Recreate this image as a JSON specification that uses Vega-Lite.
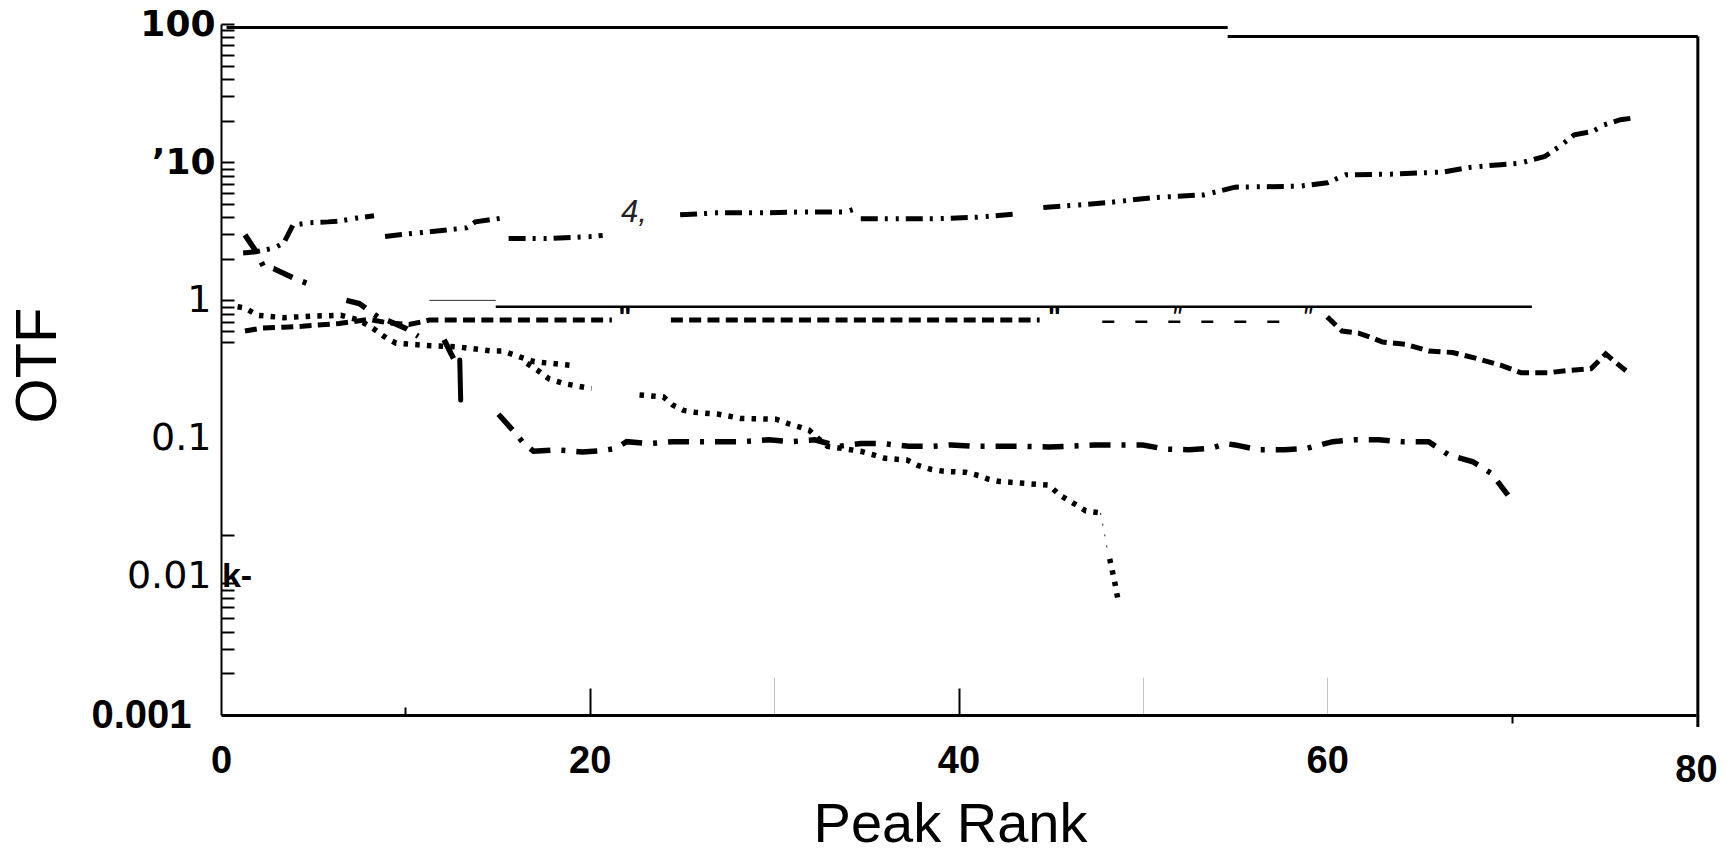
{
  "$schema": "https://vega.github.io/schema/vega-lite/v6.json",
  "width": 1475,
  "height": 691,
  "autosize": {"type": "none"},
  "padding": {"left": 221, "top": 24, "right": 36, "bottom": 139},
  "background": "white",
  "config": {"view": {"stroke": null}, "axis": {"grid": false}},
  "datasets": {
    "curves": [
      {"s":"A","g":"A1","r":1.2,"v":2.2},{"s":"A","g":"A1","r":1.9,"v":2.25},{"s":"A","g":"A1","r":2.9,"v":2.4},{"s":"A","g":"A1","r":3.4,"v":2.6},{"s":"A","g":"A1","r":3.9,"v":3.5},{"s":"A","g":"A1","r":4.8,"v":3.65},{"s":"A","g":"A1","r":5.8,"v":3.7},{"s":"A","g":"A1","r":6.4,"v":3.75},{"s":"A","g":"A1","r":7.4,"v":3.95},{"s":"A","g":"A1","r":8.3,"v":4.1},
      {"s":"A","g":"A2","r":8.9,"v":2.9},{"s":"A","g":"A2","r":9.8,"v":3.0},{"s":"A","g":"A2","r":10.9,"v":3.1},{"s":"A","g":"A2","r":12.4,"v":3.25},{"s":"A","g":"A2","r":13.3,"v":3.35},{"s":"A","g":"A2","r":13.8,"v":3.7},{"s":"A","g":"A2","r":15.3,"v":3.95},
      {"s":"A","g":"A3","r":15.6,"v":2.8},{"s":"A","g":"A3","r":17.6,"v":2.8},{"s":"A","g":"A3","r":20.1,"v":2.9},{"s":"A","g":"A3","r":20.7,"v":2.95},
      {"s":"A","g":"A4","r":24.9,"v":4.16},{"s":"A","g":"A4","r":26.9,"v":4.3},{"s":"A","g":"A4","r":29.4,"v":4.3},{"s":"A","g":"A4","r":31.7,"v":4.37},{"s":"A","g":"A4","r":33.9,"v":4.37},{"s":"A","g":"A4","r":34.4,"v":4.6},
      {"s":"A","g":"A5","r":34.7,"v":3.9},{"s":"A","g":"A5","r":36.4,"v":3.9},{"s":"A","g":"A5","r":38.7,"v":3.9},{"s":"A","g":"A5","r":41.0,"v":4.0},{"s":"A","g":"A5","r":43.0,"v":4.2},
      {"s":"A","g":"A6","r":44.6,"v":4.7},{"s":"A","g":"A6","r":45.6,"v":4.8},{"s":"A","g":"A6","r":48.1,"v":5.1},{"s":"A","g":"A6","r":50.6,"v":5.55},{"s":"A","g":"A6","r":53.3,"v":5.8},{"s":"A","g":"A6","r":55.0,"v":6.6},{"s":"A","g":"A6","r":58.5,"v":6.7},{"s":"A","g":"A6","r":60.0,"v":7.1},{"s":"A","g":"A6","r":61.0,"v":8.1},{"s":"A","g":"A6","r":63.6,"v":8.2},{"s":"A","g":"A6","r":66.3,"v":8.5},{"s":"A","g":"A6","r":67.8,"v":9.2},{"s":"A","g":"A6","r":69.4,"v":9.6},{"s":"A","g":"A6","r":70.4,"v":9.8},{"s":"A","g":"A6","r":71.8,"v":11},{"s":"A","g":"A6","r":72.6,"v":13},{"s":"A","g":"A6","r":73.4,"v":15.8},{"s":"A","g":"A6","r":74.4,"v":16.7},{"s":"A","g":"A6","r":75.0,"v":18.6},{"s":"A","g":"A6","r":75.9,"v":20.3},{"s":"A","g":"A6","r":76.5,"v":20.8},

      {"s":"B","g":"B1","r":1.3,"v":2.98},{"s":"B","g":"B1","r":1.95,"v":2.21},{"s":"B","g":"B1","r":2.3,"v":1.76},{"s":"B","g":"B1","r":2.85,"v":1.7},{"s":"B","g":"B1","r":3.94,"v":1.45},{"s":"B","g":"B1","r":4.66,"v":1.33},
      {"s":"B","g":"B2","r":6.8,"v":1.0},{"s":"B","g":"B2","r":7.5,"v":0.95},{"s":"B","g":"B2","r":8.5,"v":0.76},{"s":"B","g":"B2","r":9.1,"v":0.71},{"s":"B","g":"B2","r":10.0,"v":0.63},{"s":"B","g":"B2","r":10.7,"v":0.55},
      {"s":"B","g":"B3","r":12.1,"v":0.52},{"s":"B","g":"B3","r":12.7,"v":0.36},
      {"s":"B","g":"B4","r":15.05,"v":0.15},{"s":"B","g":"B4","r":15.95,"v":0.11},{"s":"B","g":"B4","r":16.4,"v":0.093},{"s":"B","g":"B4","r":16.95,"v":0.081},{"s":"B","g":"B4","r":18.2,"v":0.083},{"s":"B","g":"B4","r":19.6,"v":0.080},{"s":"B","g":"B4","r":20.7,"v":0.082},{"s":"B","g":"B4","r":21.4,"v":0.085},{"s":"B","g":"B4","r":22.0,"v":0.095},{"s":"B","g":"B4","r":23.2,"v":0.092},{"s":"B","g":"B4","r":24.5,"v":0.095},{"s":"B","g":"B4","r":25.8,"v":0.095},{"s":"B","g":"B4","r":28.3,"v":0.095},{"s":"B","g":"B4","r":29.7,"v":0.098},{"s":"B","g":"B4","r":30.9,"v":0.095},{"s":"B","g":"B4","r":32.2,"v":0.098},{"s":"B","g":"B4","r":33.5,"v":0.088},{"s":"B","g":"B4","r":34.7,"v":0.092},{"s":"B","g":"B4","r":35.9,"v":0.092},{"s":"B","g":"B4","r":37.3,"v":0.088},{"s":"B","g":"B4","r":38.6,"v":0.088},{"s":"B","g":"B4","r":39.6,"v":0.09},{"s":"B","g":"B4","r":40.9,"v":0.088},{"s":"B","g":"B4","r":42.1,"v":0.088},{"s":"B","g":"B4","r":43.4,"v":0.088},{"s":"B","g":"B4","r":44.9,"v":0.087},{"s":"B","g":"B4","r":46.0,"v":0.088},{"s":"B","g":"B4","r":47.4,"v":0.09},{"s":"B","g":"B4","r":48.7,"v":0.09},{"s":"B","g":"B4","r":50.0,"v":0.09},{"s":"B","g":"B4","r":51.2,"v":0.084},{"s":"B","g":"B4","r":52.5,"v":0.083},{"s":"B","g":"B4","r":53.7,"v":0.085},{"s":"B","g":"B4","r":54.5,"v":0.092},{"s":"B","g":"B4","r":55.0,"v":0.09},{"s":"B","g":"B4","r":56.3,"v":0.083},{"s":"B","g":"B4","r":57.7,"v":0.083},{"s":"B","g":"B4","r":58.9,"v":0.085},{"s":"B","g":"B4","r":60.3,"v":0.095},{"s":"B","g":"B4","r":61.5,"v":0.098},{"s":"B","g":"B4","r":62.8,"v":0.098},{"s":"B","g":"B4","r":64.1,"v":0.095},{"s":"B","g":"B4","r":65.5,"v":0.095},{"s":"B","g":"B4","r":66.6,"v":0.076},{"s":"B","g":"B4","r":67.9,"v":0.068},{"s":"B","g":"B4","r":68.9,"v":0.056},{"s":"B","g":"B4","r":69.8,"v":0.039},

      {"s":"C","g":"C1","r":1.3,"v":0.60},{"s":"C","g":"C1","r":2.2,"v":0.63},{"s":"C","g":"C1","r":3.4,"v":0.64},{"s":"C","g":"C1","r":4.4,"v":0.65},{"s":"C","g":"C1","r":6.4,"v":0.68},{"s":"C","g":"C1","r":7.1,"v":0.70},{"s":"C","g":"C1","r":8.0,"v":0.73},{"s":"C","g":"C1","r":9.0,"v":0.69},{"s":"C","g":"C1","r":10.2,"v":0.67},{"s":"C","g":"C1","r":10.9,"v":0.70},{"s":"C","g":"C1","r":11.3,"v":0.72},{"s":"C","g":"C1","r":21.2,"v":0.72},
      {"s":"C","g":"C2","r":24.4,"v":0.72},{"s":"C","g":"C2","r":44.4,"v":0.72},
      {"s":"Cf","g":"Cf1","r":47.8,"v":0.70},{"s":"Cf","g":"Cf1","r":57.6,"v":0.70},
      {"s":"C","g":"C3","r":60.0,"v":0.76},{"s":"C","g":"C3","r":60.8,"v":0.60},{"s":"C","g":"C3","r":61.7,"v":0.58},{"s":"C","g":"C3","r":62.2,"v":0.55},{"s":"C","g":"C3","r":63.0,"v":0.50},{"s":"C","g":"C3","r":64.3,"v":0.48},{"s":"C","g":"C3","r":65.5,"v":0.43},{"s":"C","g":"C3","r":66.8,"v":0.42},{"s":"C","g":"C3","r":68.1,"v":0.38},{"s":"C","g":"C3","r":69.4,"v":0.34},{"s":"C","g":"C3","r":70.5,"v":0.30},{"s":"C","g":"C3","r":72.0,"v":0.30},{"s":"C","g":"C3","r":73.0,"v":0.31},{"s":"C","g":"C3","r":74.3,"v":0.32},{"s":"C","g":"C3","r":75.1,"v":0.41},{"s":"C","g":"C3","r":75.6,"v":0.36},{"s":"C","g":"C3","r":76.2,"v":0.31},

      {"s":"D","g":"D1","r":0.9,"v":0.90},{"s":"D","g":"D1","r":1.3,"v":0.88},{"s":"D","g":"D1","r":2.0,"v":0.78},{"s":"D","g":"D1","r":3.4,"v":0.75},{"s":"D","g":"D1","r":5.0,"v":0.77},{"s":"D","g":"D1","r":6.5,"v":0.78},{"s":"D","g":"D1","r":7.5,"v":0.72},{"s":"D","g":"D1","r":8.3,"v":0.62},{"s":"D","g":"D1","r":9.0,"v":0.53},{"s":"D","g":"D1","r":9.5,"v":0.49},{"s":"D","g":"D1","r":11.4,"v":0.47},{"s":"D","g":"D1","r":12.9,"v":0.46},{"s":"D","g":"D1","r":14.7,"v":0.43},{"s":"D","g":"D1","r":15.3,"v":0.43},{"s":"D","g":"D1","r":16.2,"v":0.39},{"s":"D","g":"D1","r":17.0,"v":0.36},{"s":"D","g":"D1","r":18.9,"v":0.34},
      {"s":"D","g":"D2","r":16.6,"v":0.35},{"s":"D","g":"D2","r":17.2,"v":0.31},{"s":"D","g":"D2","r":17.8,"v":0.27},{"s":"D","g":"D2","r":18.6,"v":0.25},{"s":"D","g":"D2","r":20.1,"v":0.23},
      {"s":"D","g":"D3","r":22.7,"v":0.207},{"s":"D","g":"D3","r":24.0,"v":0.20},{"s":"D","g":"D3","r":24.5,"v":0.175},{"s":"D","g":"D3","r":25.1,"v":0.16},{"s":"D","g":"D3","r":25.7,"v":0.155},{"s":"D","g":"D3","r":27.0,"v":0.15},{"s":"D","g":"D3","r":28.2,"v":0.14},{"s":"D","g":"D3","r":30.1,"v":0.138},{"s":"D","g":"D3","r":30.8,"v":0.128},{"s":"D","g":"D3","r":31.4,"v":0.121},{"s":"D","g":"D3","r":31.9,"v":0.115},{"s":"D","g":"D3","r":32.4,"v":0.10},{"s":"D","g":"D3","r":32.9,"v":0.088},{"s":"D","g":"D3","r":34.7,"v":0.081},{"s":"D","g":"D3","r":35.3,"v":0.077},{"s":"D","g":"D3","r":36.0,"v":0.072},{"s":"D","g":"D3","r":37.2,"v":0.070},{"s":"D","g":"D3","r":37.8,"v":0.064},{"s":"D","g":"D3","r":38.5,"v":0.060},{"s":"D","g":"D3","r":39.2,"v":0.058},{"s":"D","g":"D3","r":40.4,"v":0.057},{"s":"D","g":"D3","r":41.1,"v":0.054},{"s":"D","g":"D3","r":41.6,"v":0.051},{"s":"D","g":"D3","r":42.2,"v":0.049},{"s":"D","g":"D3","r":44.9,"v":0.046},{"s":"D","g":"D3","r":45.5,"v":0.039},{"s":"D","g":"D3","r":46.4,"v":0.033},{"s":"D","g":"D3","r":46.9,"v":0.030},{"s":"D","g":"D3","r":47.7,"v":0.029},
      {"s":"Df","g":"Df1","r":47.7,"v":0.029},{"s":"Df","g":"Df1","r":47.9,"v":0.021},{"s":"Df","g":"Df1","r":48.1,"v":0.015},
      {"s":"D","g":"D4","r":48.2,"v":0.0135},{"s":"D","g":"D4","r":48.45,"v":0.0095},{"s":"D","g":"D4","r":48.7,"v":0.0063}
    ],
    "frame": [
      {"r":0.3,"v":94.5,"r2":54.6,"v2":94.5},
      {"r":54.6,"v":81.3,"r2":80.1,"v2":81.3},
      {"r":80.1,"v":81.3,"r2":80.1,"v2":0.00082}
    ],
    "refline": [
      {"r":14.9,"v":0.9,"r2":71.1,"v2":0.9}
    ],
    "thinline": [
      {"r":11.3,"v":1.0,"r2":14.9,"v2":1.0}
    ],
    "blob": [
      {"r":12.95,"v":0.37,"r2":13.0,"v2":0.19}
    ],
    "notes": [
      {"r":22.4,"v":4.3,"t":"4,"}
    ],
    "kmark": [
      {"r":0.05,"v":0.01,"t":"k-"}
    ],
    "quotesBold": [
      {"r":21.9,"v":0.9,"t":"\""},
      {"r":45.2,"v":0.9,"t":"\""}
    ],
    "quotesThin": [
      {"r":51.8,"v":0.9,"t":"\""},
      {"r":58.9,"v":0.9,"t":"\""}
    ]
  },
  "encoding": {
    "x": {
      "field": "r", "type": "quantitative",
      "scale": {"domain": [0, 80], "nice": false, "zero": false},
      "axis": {
        "values": [0, 10, 20, 30, 40, 50, 60, 70, 80],
        "labelExpr": "datum.value % 20 == 0 ? datum.label : ''",
        "labelFont": "Liberation Sans", "labelFontWeight": "bold", "labelFontSize": 38, "labelColor": "black",
        "labelPadding": {"condition": [{"test": "datum.value == 80", "value": 36}, {"test": "datum.value == 0", "value": 27}, {"test": "datum.value == 60", "value": 65}, {"test": "datum.value == 70", "value": 19}, {"test": "datum.value == 10", "value": 35}, {"test": "datum.value == 30 || datum.value == 50", "value": 65}], "value": 54},
        "labelFlush": false,
        "tickSize": {"condition": [{"test": "datum.value == 0 || datum.value == 80", "value": 0}, {"test": "datum.value == 10", "value": -8}, {"test": "datum.value == 70", "value": 8}, {"test": "datum.value == 30 || datum.value == 50 || datum.value == 60", "value": -38}], "value": -27},
        "tickColor": {"condition": {"test": "datum.value == 30 || datum.value == 50 || datum.value == 60", "value": "#c4c4c4"}, "value": "black"},
        "tickWidth": {"condition": {"test": "datum.value == 30 || datum.value == 50 || datum.value == 60", "value": 1}, "value": 2},
        "domainColor": "black", "domainWidth": 3,
        "title": "Peak Rank",
        "titleFont": "Liberation Sans", "titleFontWeight": "normal", "titleFontSize": 56, "titleColor": "black",
        "titleX": 729, "titleY": 109, "titleAlign": "center", "titleBaseline": "middle"
      }
    },
    "y": {
      "field": "v", "type": "quantitative",
      "scale": {"type": "log", "domain": [0.001, 100], "nice": false},
      "axis": {
        "values": [0.001,0.002,0.003,0.004,0.005,0.006,0.007,0.008,0.009,0.01,0.02,0.1,0.5,0.6,0.7,0.8,0.9,1,2,3,4,5,6,7,8,9,10,20,30,40,50,60,70,80,90,100],
        "labelExpr": "datum.value == 100 ? '100' : datum.value == 10 ? '\u201910' : datum.value == 1 ? '1' : datum.value == 0.1 ? '0.1' : datum.value == 0.01 ? '0.01' : datum.value == 0.001 ? '0.001' : ''",
        "labelFont": {"condition": {"test": "datum.value == 0.001", "value": "Liberation Sans"}, "value": "DejaVu Sans"},
        "labelFontWeight": {"condition": {"test": "datum.value == 100 || datum.value == 10 || datum.value == 0.001", "value": "bold"}, "value": "normal"},
        "labelFontSize": {"condition": [{"test": "datum.value == 100 || datum.value == 10", "value": 36}, {"test": "datum.value == 0.001", "value": 40}], "value": 38},
        "labelColor": "black",
        "labelPadding": {"condition": [{"test": "datum.value == 0.001", "value": 43}, {"test": "datum.value == 1 || datum.value == 0.1 || datum.value == 0.01", "value": 23}], "value": 19},
        "labelFlush": false,
        "labelOverlap": false,
        "tickSize": -13,
        "tickColor": "black", "tickWidth": 2,
        "tickOpacity": {"condition": {"test": "datum.value == 0.1 || datum.value == 0.01 || datum.value == 0.001", "value": 0}, "value": 1},
        "domainColor": "black", "domainWidth": 2,
        "title": "OTF",
        "titleFont": "Liberation Sans", "titleFontWeight": "normal", "titleFontSize": 58, "titleColor": "black",
        "titleAngle": 270, "titleX": -183, "titleY": 341, "titleAlign": "center", "titleBaseline": "middle"
      }
    }
  },
  "layer": [
    {
      "data": {"name": "curves"},
      "transform": [{"filter": "datum.s == 'A'"}],
      "mark": {"type": "line", "color": "black", "strokeWidth": 5, "strokeDash": [17, 7, 3, 8, 3, 7], "strokeCap": "butt"},
      "encoding": {"detail": {"field": "g"}, "order": {"field": "r", "type": "quantitative"}}
    },
    {
      "data": {"name": "curves"},
      "transform": [{"filter": "datum.s == 'B'"}],
      "mark": {"type": "line", "color": "black", "strokeWidth": 5.5, "strokeDash": [21, 11, 4, 11], "strokeCap": "butt"},
      "encoding": {"detail": {"field": "g"}, "order": {"field": "r", "type": "quantitative"}}
    },
    {
      "data": {"name": "curves"},
      "transform": [{"filter": "datum.s == 'C'"}],
      "mark": {"type": "line", "color": "black", "strokeWidth": 5, "strokeDash": [12, 6.3], "strokeCap": "butt"},
      "encoding": {"detail": {"field": "g"}, "order": {"field": "r", "type": "quantitative"}}
    },
    {
      "data": {"name": "curves"},
      "transform": [{"filter": "datum.s == 'Cf'"}],
      "mark": {"type": "line", "color": "black", "strokeWidth": 2.5, "strokeDash": [12, 21], "strokeCap": "butt"},
      "encoding": {"detail": {"field": "g"}, "order": {"field": "r", "type": "quantitative"}}
    },
    {
      "data": {"name": "curves"},
      "transform": [{"filter": "datum.s == 'D'"}],
      "mark": {"type": "line", "color": "black", "strokeWidth": 5.5, "strokeDash": [4.5, 7.2], "strokeCap": "butt"},
      "encoding": {"detail": {"field": "g"}, "order": {"field": "r", "type": "quantitative"}}
    },
    {
      "data": {"name": "curves"},
      "transform": [{"filter": "datum.s == 'Df'"}],
      "mark": {"type": "line", "color": "#444", "strokeWidth": 1.2, "strokeDash": [2, 9], "strokeCap": "butt"},
      "encoding": {"detail": {"field": "g"}, "order": {"field": "r", "type": "quantitative"}}
    },
    {
      "data": {"name": "frame"},
      "mark": {"type": "rule", "color": "black", "strokeWidth": 3},
      "encoding": {"x2": {"field": "r2"}, "y2": {"field": "v2"}}
    },
    {
      "data": {"name": "refline"},
      "mark": {"type": "rule", "color": "black", "strokeWidth": 2.5},
      "encoding": {"x2": {"field": "r2"}, "y2": {"field": "v2"}}
    },
    {
      "data": {"name": "thinline"},
      "mark": {"type": "rule", "color": "#333", "strokeWidth": 1},
      "encoding": {"x2": {"field": "r2"}, "y2": {"field": "v2"}}
    },
    {
      "data": {"name": "blob"},
      "mark": {"type": "rule", "color": "black", "strokeWidth": 5, "strokeCap": "round"},
      "encoding": {"x2": {"field": "r2"}, "y2": {"field": "v2"}}
    },
    {
      "data": {"name": "notes"},
      "mark": {"type": "text", "font": "Liberation Sans", "fontSize": 31, "fontStyle": "italic", "color": "#222", "align": "center", "baseline": "middle"},
      "encoding": {"text": {"field": "t"}}
    },
    {
      "data": {"name": "kmark"},
      "mark": {"type": "text", "font": "Liberation Sans", "fontSize": 34, "fontWeight": "bold", "color": "black", "align": "left", "baseline": "middle"},
      "encoding": {"text": {"field": "t"}}
    },
    {
      "data": {"name": "quotesBold"},
      "mark": {"type": "text", "font": "Liberation Sans", "fontSize": 28, "fontWeight": "bold", "color": "black", "align": "center", "baseline": "top", "dy": -3},
      "encoding": {"text": {"field": "t"}}
    },
    {
      "data": {"name": "quotesThin"},
      "mark": {"type": "text", "font": "Liberation Sans", "fontSize": 26, "fontStyle": "italic", "color": "black", "align": "center", "baseline": "top", "dy": -2},
      "encoding": {"text": {"field": "t"}}
    }
  ]
}
